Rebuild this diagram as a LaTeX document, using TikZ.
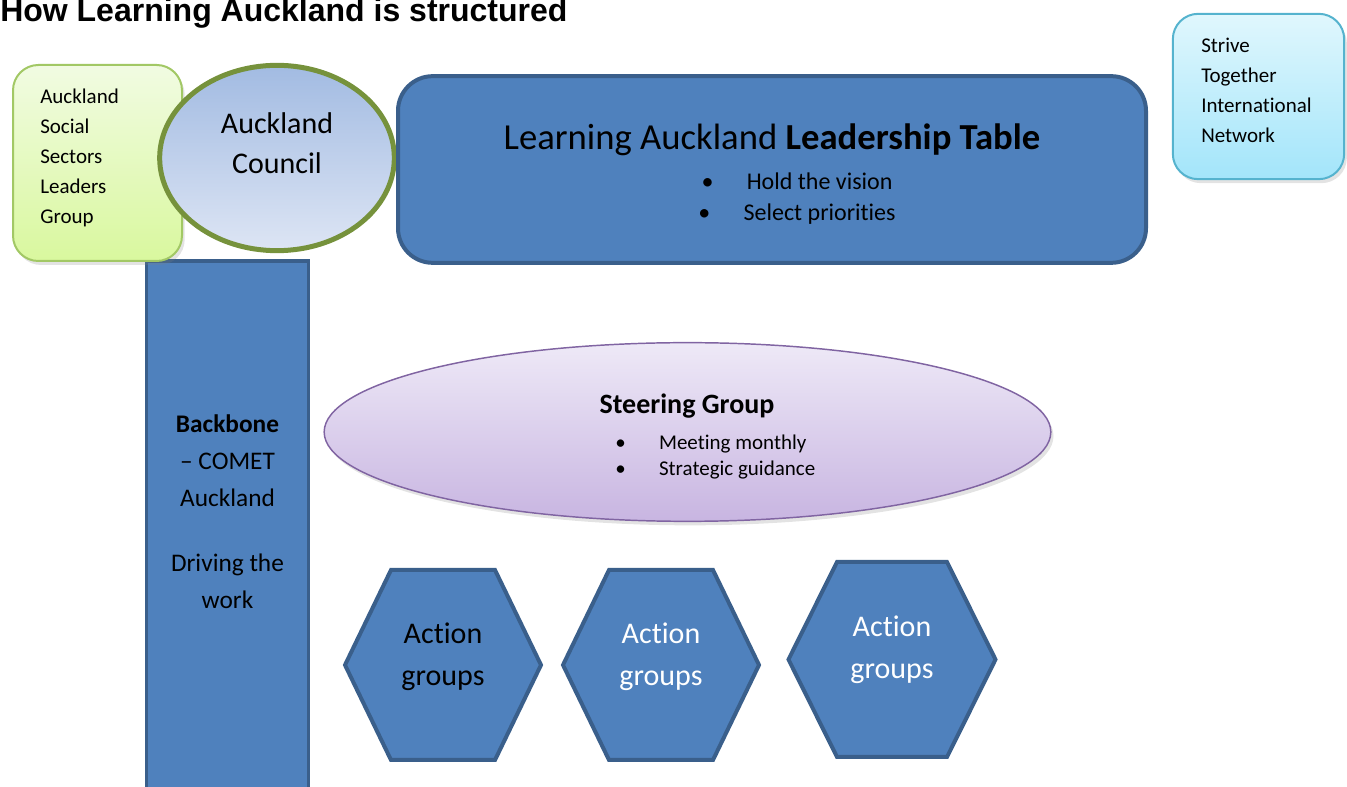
\documentclass[tikz,border=0pt]{standalone}
\usepackage{fontspec}
\setmainfont{Carlito}[Ligatures={NoCommon,NoContextual}, Contextuals=NoAlternate]
\newfontfamily\headfont{Liberation Sans}
\usepackage{tikz}
\usetikzlibrary{positioning, shapes.geometric, shadows}
\definecolor{boxblue}{HTML}{4F81BD}
\definecolor{boxblueline}{HTML}{3A5F8B}
\definecolor{greentop}{HTML}{F1FBE2}
\definecolor{greenbottom}{HTML}{D9F89E}
\definecolor{greenline}{HTML}{A2C865}
\definecolor{olive}{HTML}{76923C}
\definecolor{counciltop}{HTML}{A2BBE2}
\definecolor{councilbottom}{HTML}{DDE5F4}
\definecolor{cyantop}{HTML}{E0F7FD}
\definecolor{cyanbottom}{HTML}{A3E5FA}
\definecolor{cyanline}{HTML}{55B3CE}
\definecolor{lilactop}{HTML}{EEE9F7}
\definecolor{lilacbottom}{HTML}{C8B5E1}
\definecolor{lilacline}{HTML}{8064A2}
\tikzset{
	softshadow/.style={
		drop shadow={opacity=0.22, shadow xshift=2pt, shadow yshift=-3pt}
	},
	bluebox/.append style={
		draw=boxblueline,
		fill=boxblue,
		line width=3pt,
	},
	greenbox/.append style={
		draw=greenline,
		line width=1.5pt,
		top color=greentop,
		bottom color=greenbottom,
		rounded corners=19pt,
		softshadow,
	},
	cyanbox/.append style={
		draw=cyanline,
		line width=1.5pt,
		top color=cyantop,
		bottom color=cyanbottom,
		rounded corners=19pt,
		softshadow,
	},
	councilellipse/.append style={
		ellipse,
		draw=olive,
		line width=3.75pt,
		top color=counciltop,
		bottom color=councilbottom,
		inner sep=0pt,
	},
	steerellipse/.append style={
		ellipse,
		draw=lilacline,
		line width=1.1pt,
		top color=lilactop,
		bottom color=lilacbottom,
		inner sep=0pt,
		softshadow,
	},
	hexbox/.append style={
		draw=boxblueline,
		fill=boxblue,
		line width=3pt,
		line join=miter,
	},
	smalltext/.append style={
		align=left,
		inner sep=0pt,
		font={\fontsize{15.75}{22.5}\selectfont}
	},
	bigtext/.append style={
		align=center,
		inner sep=0pt,
		font={\fontsize{22.5}{30}\selectfont}
	},
}

\begin{document}
\begin{tikzpicture}[x=0.75pt, y=-0.75pt]
		\useasboundingbox (0,0) rectangle (1347,787);
		
		\node(title)[anchor=base west, inner sep=0pt, font={\headfont\bfseries\fontsize{24}{28}\selectfont}] at (0,22) {How Learning Auckland is structured};
		
		\node(backbone)[bluebox, line width=2.5pt, minimum width=121.5pt, minimum height=405pt] at (227.5,531) {};
		\node(sslg)[greenbox, minimum width=126.75pt, minimum height=147pt] at (97.5,163) {};
		\node(council)[councilellipse, minimum width=176pt, minimum height=139pt] at (277,158) {};
		\node(leadtable)[bluebox, rounded corners=26pt, minimum width=561pt, minimum height=140pt] at (772,169.5) {};
		\node(strive)[cyanbox, minimum width=128.5pt, minimum height=124pt] at (1258.5,96.5) {};
		\node(steering)[steerellipse, minimum width=545pt, minimum height=134pt] at (687.5,432) {};
		
		% action groups
		\foreach \n/\cx/\cy/\hw/\tw/\hh in {1/443/665/98/52/95, 2/661/665/98/52/95, 3/892/659.5/103.5/55/97.5}
			\draw[hexbox] (\cx-\hw,\cy) -- (\cx-\tw,\cy-\hh) -- (\cx+\tw,\cy-\hh) -- (\cx+\hw,\cy)
				-- (\cx+\tw,\cy+\hh) -- (\cx-\tw,\cy+\hh) -- cycle;
		
		\node(sslgtxt)[smalltext, anchor=base west] at (40,224) {Auckland\\Social\\Sectors\\Leaders\\Group};
		\node(strivetxt)[smalltext, anchor=base west] at (1201,143) {Strive\\Together\\International\\Network};
		\node(counciltxt)[bigtext, font={\fontsize{22.5}{30}\selectfont}, anchor=base] at (277,174) {Auckland\\Council};
		
		\node(leadtitle)[inner sep=0pt, anchor=base, font={\fontsize{27.5}{33}\selectfont}] at (772,150) {Learning Auckland \textbf{Leadership Table}};
		\node(leadlist)[align=center, inner sep=0pt, anchor=base, font={\fontsize{18}{23.5}\selectfont}] at (797,220.5) {\textbullet\hspace{25pt}Hold the vision\\\textbullet\hspace{25pt}Select priorities};
		
		\node(backbonetxt)[bigtext, font={\fontsize{19}{27.75}\selectfont}, anchor=base] at (227.5,609) {\textbf{Backbone}\\-- COMET\\Auckland\\[21pt]Driving the\\work};
		
		\node(steertitle)[inner sep=0pt, anchor=base, font={\bfseries\fontsize{21}{26}\selectfont}] at (687,414) {Steering Group};
		\node(steerlist)[smalltext, anchor=base west, font={\fontsize{15.75}{19.5}\selectfont}] at (615,475.5) {\textbullet\hspace{25pt}Meeting monthly\\\textbullet\hspace{25pt}Strategic guidance};
		
		\node(act1)[bigtext, anchor=base, font={\fontsize{22.5}{31.5}\selectfont}] at (443,686) {Action\\groups};
		\node(act2)[bigtext, anchor=base, text=white, font={\fontsize{22.5}{31.5}\selectfont}] at (661,686) {Action\\groups};
		\node(act3)[bigtext, anchor=base, text=white, font={\fontsize{22.5}{31.5}\selectfont}] at (892,679) {Action\\groups};
\end{tikzpicture}
\end{document}
